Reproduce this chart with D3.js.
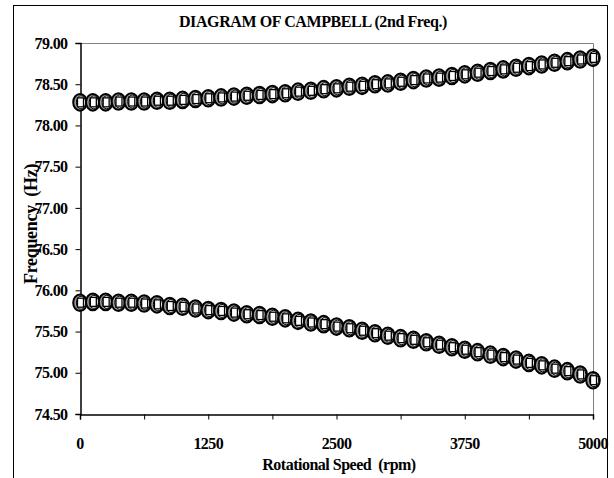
<!DOCTYPE html>
<html>
<head>
<meta charset="utf-8">
<script src="https://cdn.jsdelivr.net/npm/d3@7"></script>
<style>
  body { margin: 0; background: #fff; }
  svg text { font-family: "Times New Roman", "Liberation Serif", serif; font-weight: bold; fill: #000; }
</style>
</head>
<body>
<div id="chart"></div>
<script>
  // rotational speed, rpm
  var speeds = d3.range(0, 5001, 125);

  // upper branch (forward whirl), Hz
  var upper = [78.28, 78.28, 78.28, 78.29, 78.29, 78.29, 78.30, 78.30, 78.31, 78.32,
               78.33, 78.34, 78.35, 78.36, 78.37, 78.38, 78.39, 78.41, 78.42, 78.44,
               78.45, 78.47, 78.48, 78.50, 78.51, 78.53, 78.55, 78.57, 78.58, 78.60,
               78.62, 78.64, 78.66, 78.68, 78.70, 78.72, 78.74, 78.76, 78.78, 78.80,
               78.82];

  // lower branch (backward whirl), Hz
  var lower = [75.85, 75.86, 75.86, 75.85, 75.85, 75.84, 75.83, 75.81, 75.80, 75.78,
               75.76, 75.75, 75.73, 75.71, 75.70, 75.68, 75.66, 75.63, 75.61, 75.59,
               75.56, 75.54, 75.51, 75.48, 75.45, 75.42, 75.40, 75.37, 75.34, 75.31,
               75.28, 75.25, 75.22, 75.19, 75.16, 75.12, 75.09, 75.05, 75.02, 74.98,
               74.91];

  var xTicks = [0, 1250, 2500, 3750, 5000],
      xMinor = d3.range(0, 5001, 625),
      yTicks = d3.range(74.5, 79.01, 0.5);

  var W = 614, H = 478,
      plotLeft = 80, plotRight = 593, plotTop = 43, plotBottom = 414;

  var svg = d3.select('#chart')
    .append('svg')
    .attr('width', W)
    .attr('height', H);

  var x = d3.scaleLinear().domain([0, 5000]).range([plotLeft, plotRight]);
  var y = d3.scaleLinear().domain([74.5, 79]).range([plotBottom, plotTop]);

  // outer frame
  svg.append('rect')
    .attr('x', 13.5).attr('y', 5.5)
    .attr('width', 594).attr('height', 500)
    .attr('fill', 'none').attr('stroke', '#000').attr('stroke-width', 1);

  // plot area border (gray, top and right)
  svg.append('path')
    .attr('d', 'M' + plotLeft + ',' + (plotTop + 0.5) + 'H' + (plotRight + 0.5) + 'V' + plotBottom)
    .attr('fill', 'none').attr('stroke', '#808080').attr('stroke-width', 1);

  // y axis
  var yAxis = svg.append('g')
    .attr('transform', 'translate(' + (plotLeft + 0.5) + ',0)')
    .call(d3.axisLeft(y).tickValues(yTicks).tickSize(5).tickPadding(8).tickFormat(d3.format('.2f')));

  // x axis, minor ticks then labels
  var xAxis = svg.append('g')
    .attr('transform', 'translate(0,' + (plotBottom + 0.5) + ')')
    .call(d3.axisBottom(x).tickValues(xMinor).tickSize(5).tickFormat(''));

  svg.append('g')
    .selectAll('text')
    .data(xTicks)
    .enter()
    .append('text')
    .attr('x', function(d) { return x(d); })
    .attr('y', 449)
    .attr('text-anchor', 'middle')
    .style('font-size', '16px')
    .style('letter-spacing', '-0.6px')
    .text(function(d) { return d; });

  svg.selectAll('.domain').attr('stroke', '#000').attr('stroke-width', 1.5);
  svg.selectAll('.tick line').attr('stroke', '#000');
  yAxis.selectAll('text')
    .style('font-size', '16px')
    .style('letter-spacing', '-0.6px');

  // titles
  svg.append('text')
    .attr('x', 313).attr('y', 27)
    .attr('text-anchor', 'middle')
    .style('font-size', '16px')
    .style('letter-spacing', '-0.4px')
    .text('DIAGRAM OF CAMPBELL (2nd Freq.)');

  svg.append('text')
    .attr('x', 339).attr('y', 470)
    .attr('text-anchor', 'middle')
    .style('font-size', '16px')
    .style('letter-spacing', '-0.5px')
    .style('white-space', 'pre')
    .text('Rotational Speed  (rpm)');

  svg.append('text')
    .attr('transform', 'translate(37,224) rotate(-90)')
    .attr('text-anchor', 'middle')
    .style('font-size', '18px')
    .style('letter-spacing', '-0.3px')
    .style('white-space', 'pre')
    .text('Frequency  (Hz)');

  // markers
  function drawSeries(values) {
    var g = svg.append('g')
      .selectAll('g')
      .data(values)
      .enter()
      .append('g')
      .attr('transform', function(d, i) { return 'translate(' + x(speeds[i]) + ',' + y(d) + ')'; });

    g.append('ellipse')
      .attr('rx', 6.8).attr('ry', 8.3)
      .attr('fill', '#9a9a9a')
      .attr('stroke', '#000').attr('stroke-width', 2);
    g.append('ellipse')
      .attr('cx', 1).attr('rx', 4.6).attr('ry', 6.5)
      .attr('fill', '#fff')
      .attr('stroke', '#000').attr('stroke-width', 1);
    g.append('rect')
      .attr('x', -2.5).attr('y', -4.5)
      .attr('width', 6).attr('height', 9)
      .attr('fill', '#fff')
      .attr('stroke', '#000').attr('stroke-width', 1.3);
  }

  drawSeries(upper);
  drawSeries(lower);
</script>
</body>
</html>
